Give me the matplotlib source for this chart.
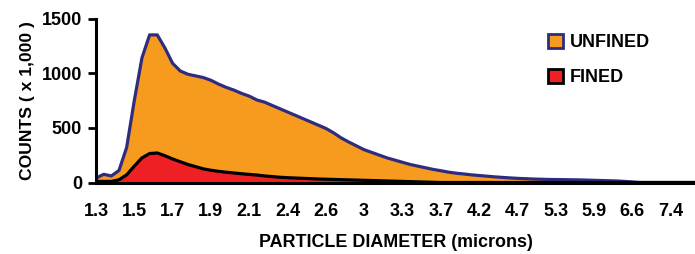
import numpy as np
import matplotlib.pyplot as plt
from matplotlib.patches import Patch

plt.rcParams['font.family'] = ['Liberation Sans', 'DejaVu Sans']
plt.rcParams['font.weight'] = 'bold'
plt.rcParams['axes.labelweight'] = 'bold'

# counts (x 1,000) per size channel
unfined = [40, 75, 60, 110, 320, 750, 1140, 1350, 1350, 1230,
           1090, 1020, 990, 975, 960, 935, 900, 870, 845, 815,
           790, 755, 735, 705, 675, 645, 615, 585, 555, 525,
           495, 455, 408, 370, 335, 300, 275, 250, 225, 205,
           185, 165, 150, 135, 120, 108, 95, 85, 78, 70,
           64, 58, 52, 47, 42, 38, 35, 32, 30, 28,
           27, 26, 25, 24, 22, 20, 18, 16, 14, 10,
           5, 0, 0, 0, 0, 0, 0, 0, 0]
fined = [10, 10, 10, 25, 70, 150, 225, 265, 270, 245,
         215, 190, 165, 145, 125, 112, 102, 94, 87, 80,
         74, 68, 60, 54, 48, 44, 41, 38, 35, 32,
         30, 28, 26, 24, 22, 20, 18, 16, 14, 12,
         10, 8, 6, 4, 2, 0, 0, 0, 0, 0,
         0, 0, 0, 0, 0, 0, 0, 0, 0, 0,
         0, 0, 0, 0, 0, 0, 0, 0, 0, 0,
         0, 0, 0, 0, 0, 0, 0, 0, 0]
tick_labels = ['1.3', '1.5', '1.7', '1.9', '2.1', '2.4', '2.6', '3',
               '3.3', '3.7', '4.2', '4.7', '5.3', '5.9', '6.6', '7.4']

orange = '#F79B1E'
navy = '#2E2C80'
red = '#EE2024'

x = np.arange(len(unfined))

fig = plt.figure(figsize=(6.95, 2.54), dpi=100)
ax = fig.add_axes([96 / 695, 1 - 182.5 / 254, 599 / 695, 164 / 254])

ax.fill_between(x, unfined, color=orange, lw=0)
ax.plot(x, unfined, color=navy, lw=2.3, solid_joinstyle='round')
ax.fill_between(x, fined, color=red, lw=0)
ax.plot(x, fined, color='black', lw=2.3, solid_joinstyle='round')

ax.set_xlim(0, 78.2)
ax.set_ylim(0, 1500)
ax.set_yticks([0, 500, 1000, 1500])

# labels every 5 channels, tick marks every 10
ax.set_xticks(np.arange(0, 80, 5))
ax.set_xticklabels(tick_labels)
ax.set_xticks(np.arange(0, 80, 10), minor=True)
ax.tick_params(axis='x', which='major', length=0, pad=15, labelsize=13)
ax.tick_params(axis='x', which='minor', length=5, width=2, direction='out')
ax.tick_params(axis='y', length=6, width=2, pad=4, labelsize=13)

for s in ['top', 'right']:
    ax.spines[s].set_visible(False)
for s in ['left', 'bottom']:
    ax.spines[s].set_linewidth(2.2)
ax.spines['bottom'].set_zorder(5)

ax.set_ylabel('COUNTS ( x 1,000 )', fontsize=12.6, fontweight='bold', labelpad=5)
ax.set_xlabel('PARTICLE DIAMETER (microns)', fontsize=12.9, fontweight='bold', labelpad=10)

handles = [Patch(facecolor=orange, edgecolor=navy, lw=2, label='UNFINED'),
           Patch(facecolor=red, edgecolor='black', lw=2, label='FINED')]
fig.legend(handles=handles, loc='upper left', bbox_to_anchor=(548 / 695, 1 - 34 / 254),
           frameon=False, prop={'size': 13, 'weight': 'bold'},
           handlelength=0.85, handleheight=0.85,
           handletextpad=0.35, labelspacing=0.95, borderpad=0, borderaxespad=0)

fig.savefig('out.png', dpi=100)
